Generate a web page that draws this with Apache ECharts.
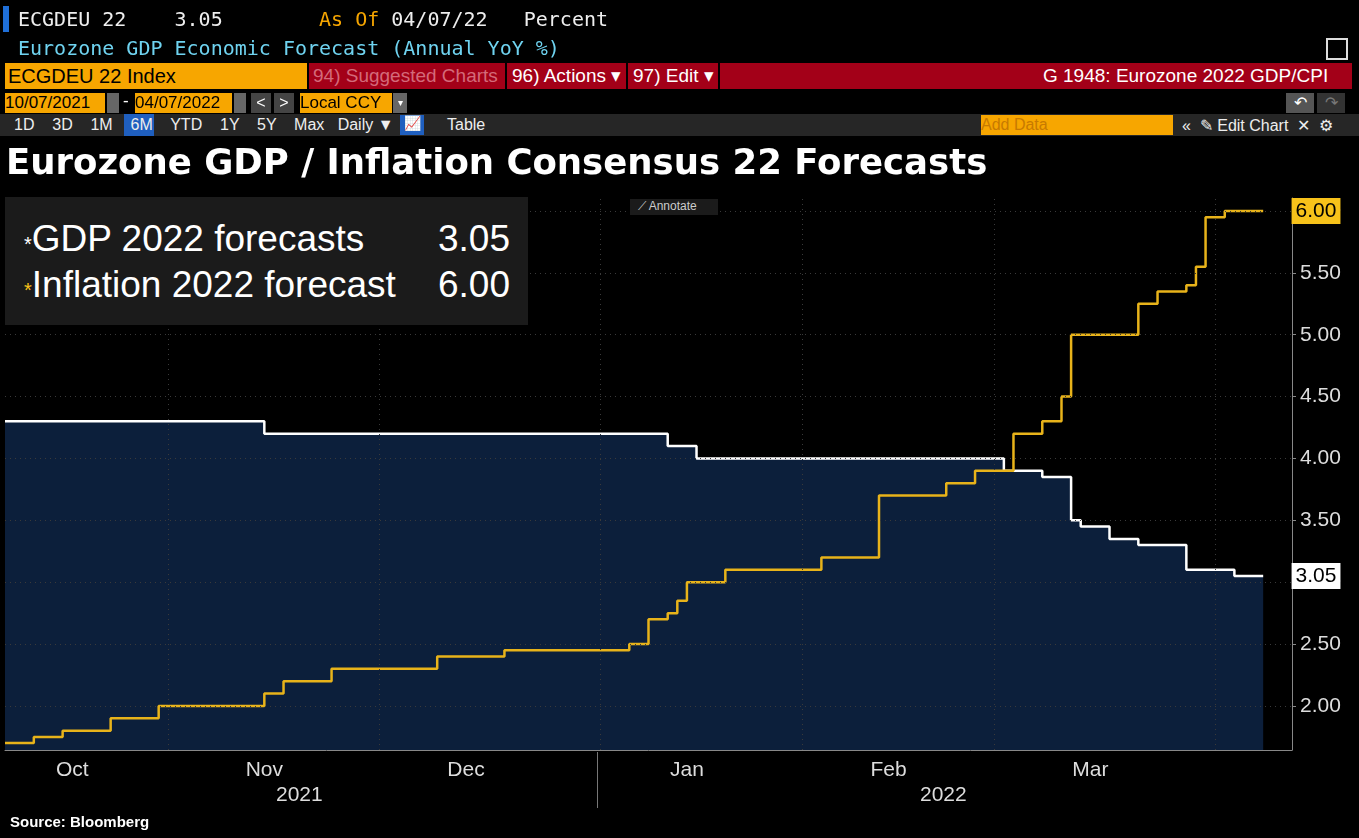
<!DOCTYPE html>
<html><head><meta charset="utf-8">
<script src="https://cdn.jsdelivr.net/npm/echarts@6/dist/echarts.min.js"></script>
<style>
body{margin:0;background:#000;width:1359px;height:838px;overflow:hidden;font-family:"Liberation Sans",Arial,sans-serif;}
#c{position:absolute;left:0;top:0;width:1359px;height:838px;}
.h{position:absolute;white-space:pre;}
.mono{font-family:"DejaVu Sans Mono",monospace;}
</style></head><body>
<div id="c"></div>
<div class="h" style="left:3px;top:6px;width:6px;height:26px;background:#1f6fd8"></div>
<div class="h mono" style="left:18px;top:7px;font-size:20px;color:#eee">ECGDEU 22    3.05        <span style="color:#f7a600">As Of</span> 04/07/22   Percent</div>
<div class="h mono" style="left:18px;top:36px;font-size:20px;color:#6fd3f0">Eurozone GDP Economic Forecast (Annual YoY %)</div>
<div class="h" style="left:1326px;top:38px;width:18px;height:18px;border:2px solid #ddd"></div>
<div class="h" style="left:5px;top:63px;width:302px;height:26px;background:#f7a600;color:#000;font-size:20px;line-height:26px;padding-left:3px;box-sizing:border-box">ECGDEU 22 Index</div>
<div class="h" style="left:309px;top:63px;width:1043px;height:26px;background:#a30018"></div>
<div class="h" style="left:313px;top:63px;line-height:26px;font-size:19px;color:#d46a7a">94) Suggested Charts</div>
<div class="h" style="left:505px;top:63px;width:2px;height:26px;background:#000"></div>
<div class="h" style="left:512px;top:63px;line-height:26px;font-size:19px;color:#fff">96) Actions ▾</div>
<div class="h" style="left:626px;top:63px;width:2px;height:26px;background:#000"></div>
<div class="h" style="left:633px;top:63px;line-height:26px;font-size:19px;color:#fff">97) Edit ▾</div>
<div class="h" style="left:718px;top:63px;width:2px;height:26px;background:#000"></div>
<div class="h" style="left:1043px;top:63px;line-height:26px;font-size:19px;color:#fff">G 1948: Eurozone 2022 GDP/CPI</div>
<div class="h" style="left:5px;top:93px;width:100px;height:20px;background:#f7a600;color:#000;font-size:17px;line-height:20px">10/07/2021</div>
<div class="h" style="left:107px;top:93px;width:12px;height:20px;background:#666"></div>
<div class="h" style="left:123px;top:91px;color:#fff;font-size:17px">-</div>
<div class="h" style="left:135px;top:93px;width:97px;height:20px;background:#f7a600;color:#000;font-size:17px;line-height:20px">04/07/2022</div>
<div class="h" style="left:234px;top:93px;width:12px;height:20px;background:#666"></div>
<div class="h" style="left:251px;top:93px;width:20px;height:20px;background:#444;color:#fff;text-align:center;line-height:20px">&lt;</div>
<div class="h" style="left:274px;top:93px;width:20px;height:20px;background:#444;color:#fff;text-align:center;line-height:20px">&gt;</div>
<div class="h" style="left:300px;top:93px;width:92px;height:20px;background:#f7a600;color:#000;font-size:17px;line-height:20px">Local CCY</div>
<div class="h" style="left:393px;top:93px;width:14px;height:20px;background:#666;color:#fff;font-size:10px;line-height:20px;text-align:center">▾</div>
<div class="h" style="left:1286px;top:93px;width:28px;height:20px;background:#555;color:#fff;text-align:center">↶</div>
<div class="h" style="left:1317px;top:93px;width:28px;height:20px;background:#333;color:#777;text-align:center">↷</div>
<div class="h" style="left:0;top:114px;width:1359px;height:22px;background:#262626"></div>
<div class="h" style="left:124px;top:114px;width:30px;height:22px;background:#1f5fbf"></div>
<div class="h" style="left:14px;top:116px;font-size:16px;color:#eee;word-spacing:0">1D    3D    1M    6M    YTD    1Y    5Y    Max   Daily ▼</div>
<div class="h" style="left:400px;top:115px;width:24px;height:20px;background:#1f5fbf;color:#fff;text-align:center;font-size:14px">📈</div>
<div class="h" style="left:447px;top:116px;font-size:16px;color:#eee">Table</div>
<div class="h" style="left:981px;top:115px;width:192px;height:20px;background:#f7a600;color:#c77a00;font-size:16px;line-height:20px">Add Data</div>
<div class="h" style="left:1182px;top:116px;font-size:16px;color:#eee">«  ✎ Edit Chart  ✕  ⚙</div>
<div class="h" style="left:6px;top:141px;font-size:35.5px;font-weight:bold;color:#fff;font-family:'DejaVu Sans',sans-serif">Eurozone GDP / Inflation Consensus 22 Forecasts</div>
<div class="h" style="left:5px;top:197px;width:523px;height:128px;background:#1b1b1b"></div>
<div class="h" style="left:24px;top:218px;font-size:37px;color:#fff"><span style="font-size:20px">*</span>GDP 2022 forecasts</div>
<div class="h" style="left:438px;top:218px;font-size:37px;color:#fff">3.05</div>
<div class="h" style="left:24px;top:264px;font-size:37px;color:#fff"><span style="font-size:20px;color:#f7c21a">*</span>Inflation 2022 forecast</div>
<div class="h" style="left:438px;top:264px;font-size:37px;color:#fff">6.00</div>
<div class="h" style="left:630px;top:199px;width:80px;height:16px;background:#1b1b1b;color:#ccc;font-size:12px;padding-left:8px">⟋ Annotate</div>
<div class="h" style="left:10px;top:813px;font-size:15px;font-weight:bold;color:#fff">Source: Bloomberg</div>
<script>
const startDate = '2021-10-07', endDate = '2022-04-13', lastData = '2022-04-07';
const gdpSteps = [['2021-10-07',4.30],['2021-11-15',4.20],['2022-01-12',4.10],['2022-01-17',4.00],['2022-03-02',3.90],['2022-03-08',3.85],['2022-03-11',3.50],['2022-03-14',3.45],['2022-03-17',3.35],['2022-03-22',3.30],['2022-03-29',3.10],['2022-04-05',3.05]];
const cpiSteps = [['2021-10-07',1.70],['2021-10-12',1.75],['2021-10-15',1.80],['2021-10-22',1.90],['2021-10-29',2.00],['2021-11-15',2.10],['2021-11-17',2.20],['2021-11-24',2.30],['2021-12-09',2.40],['2021-12-20',2.45],['2022-01-06',2.50],['2022-01-10',2.70],['2022-01-12',2.75],['2022-01-13',2.85],['2022-01-14',3.00],['2022-01-20',3.10],['2022-02-03',3.20],['2022-02-11',3.70],['2022-02-22',3.80],['2022-02-25',3.90],['2022-03-03',4.20],['2022-03-08',4.30],['2022-03-10',4.50],['2022-03-11',5.00],['2022-03-22',5.25],['2022-03-24',5.35],['2022-03-29',5.40],['2022-03-30',5.55],['2022-03-31',5.95],['2022-04-04',6.00]];
const monthLabels = {'2021-10-18':'Oct','2021-11-15':'Nov','2021-12-14':'Dec','2022-01-14':'Jan','2022-02-14':'Feb','2022-03-15':'Mar'};
const monthStarts = ['2021-11-01','2021-12-01','2022-01-03','2022-02-01','2022-03-01','2022-04-01'];
const yTicks = [2.0,2.5,3.0,3.5,4.0,4.5,5.0,5.5,6.0];

const cats=[];
for(let d=new Date(startDate+'T00:00:00Z');d<=new Date(endDate+'T00:00:00Z');d.setUTCDate(d.getUTCDate()+1)){
  const w=d.getUTCDay(); if(w===0||w===6) continue; cats.push(d.toISOString().slice(0,10));
}
function expand(steps){let v=null,i=0;return cats.map(c=>{while(i<steps.length&&steps[i][0]<=c){v=steps[i][1];i++;}return c<=lastData?v:null;});}
const gdp=expand(gdpSteps), cpi=expand(cpiSteps);
const ch=echarts.init(document.getElementById('c'));
const lbl=(col)=>({show:true,formatter:p=>p.value.toFixed(2),backgroundColor:col,color:'#000',fontSize:21,padding:[3,4,2,4],offset:[30,0],fontFamily:'Liberation Sans'});
ch.setOption({
  backgroundColor:'#000',animation:false,
  grid:{left:5,right:67,top:198,bottom:88},
  xAxis:{type:'category',data:cats,boundaryGap:false,
    axisLine:{lineStyle:{color:'#888'}},axisTick:{show:false},
    axisLabel:{interval:(i,v)=>!!monthLabels[v],formatter:v=>monthLabels[v]||'',color:'#ddd',fontSize:21,margin:10},
    splitLine:{show:false}},
  yAxis:{type:'value',min:1.644,max:6.105,position:'right',
    axisLine:{show:true,lineStyle:{color:'#888'}},
    axisTick:{show:true,customValues:yTicks,length:4,lineStyle:{color:'#888'}},
    axisLabel:{customValues:yTicks,formatter:v=>v.toFixed(2),color:'#ddd',fontSize:21,margin:8},
    splitLine:{show:false}},
  graphic:[
    {type:'text',left:276,top:785,style:{text:'2021',fill:'#ddd',fontSize:21}},
    {type:'text',left:920,top:785,style:{text:'2022',fill:'#ddd',fontSize:21}},
    {type:'rect',shape:{x:597,y:752,width:1,height:56},style:{fill:'#777'}}
  ],
  series:[
    {name:'GDP',type:'line',data:gdp,step:'end',symbol:'none',lineStyle:{color:'#fff',width:2.5},
     areaStyle:{color:'#0c1f3b',origin:'start',opacity:1},z:2,
     endLabel:lbl('#fff'),
     markLine:{silent:true,symbol:'none',label:{show:false},
       lineStyle:{color:'#3a3a3a',type:[1,4],width:1},
       data:yTicks.map(v=>({yAxis:v})).concat(monthStarts.map(v=>({xAxis:v})))}},
    {name:'CPI',type:'line',data:cpi,step:'end',symbol:'none',lineStyle:{color:'#e8b31a',width:2.5},z:3,
     endLabel:lbl('#f7c21a')}
  ]
});
</script></body></html>
